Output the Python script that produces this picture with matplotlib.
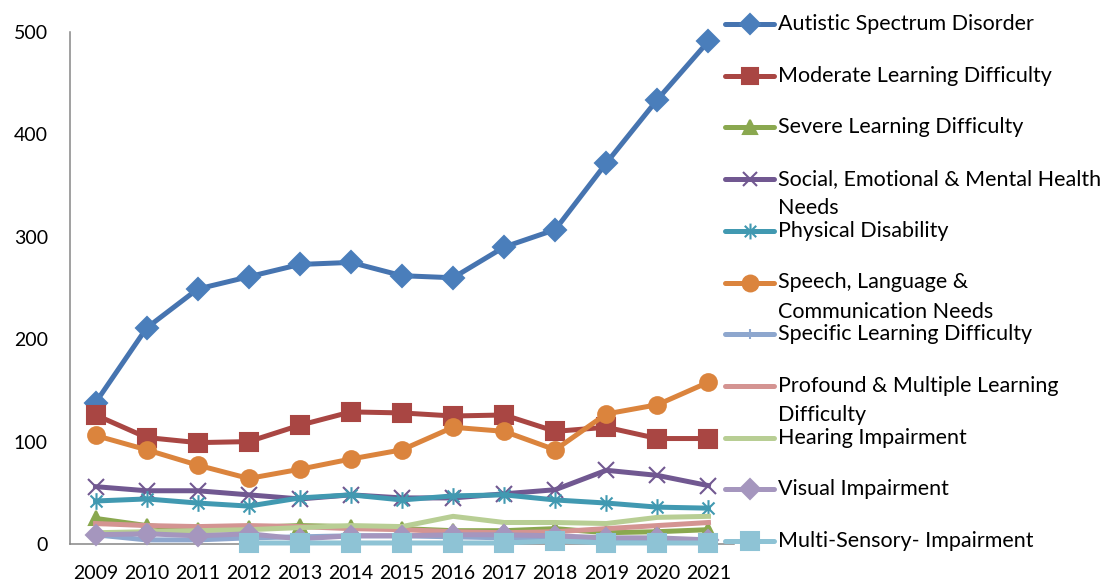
import numpy as np
import matplotlib
matplotlib.use("Agg")
import matplotlib.pyplot as plt
from matplotlib.lines import Line2D
from matplotlib.path import Path

plt.rcParams['font.family'] = ['Lato', 'DejaVu Sans']

# Pupil counts by primary need, 2009-2021
years = ['2009', '2010', '2011', '2012', '2013', '2014', '2015',
         '2016', '2017', '2018', '2019', '2020', '2021']

autistic = [138, 211, 249, 261, 273, 275, 262, 260, 290, 307, 372, 434, 491]
moderate = [126, 104, 99, 100, 116, 129, 128, 125, 126, 110, 114, 103, 103]
severe = [25, 18, 14, 16, 18, 17, 15, 13, 13, 15, 11, 12, 14]
social = [56, 52, 52, 48, 44, 48, 45, 45, 49, 53, 72, 67, 57]
physical = [42, 44, 40, 37, 45, 48, 43, 47, 48, 43, 40, 36, 35]
speech = [106, 92, 77, 64, 73, 83, 92, 114, 110, 92, 127, 136, 158]
specific = [9, 4, 4, 6, 7, 8, 8, 7, 6, 5, 4, 3, 3]
profound = [20, 18, 17, 18, 17, 15, 14, 12, 11, 12, 15, 18, 21]
hearing = [11, 12, 13, 14, 16, 18, 17, 27, 21, 21, 20, 26, 27]
visual = [9, 10, 8, 10, 5, 8, 8, 9, 9, 8, 6, 6, 4]
multi = [np.nan, np.nan, np.nan, 1, 1, 1, 1, 1, 1, 3, 1, 1, 1]

# asterisk marker: vertical bar plus a cross
star = Path([(0, -1), (0, 1), (-0.72, -0.72), (0.72, 0.72), (-0.72, 0.72), (0.72, -0.72)],
            [Path.MOVETO, Path.LINETO, Path.MOVETO, Path.LINETO, Path.MOVETO, Path.LINETO])

series = [
    ("Autistic Spectrum Disorder", autistic, '#4674B0', '#4A7EBB', 'D', 11),
    ("Moderate Learning Difficulty", moderate, '#A94643', '#A94643', 's', 12.5),
    ("Severe Learning Difficulty", severe, '#8AA84F', '#8AA84F', '^', 10),
    ("Social, Emotional & Mental Health\nNeeds", social, '#715891', '#715891', 'x', 11),
    ("Physical Disability", physical, '#4199B1', '#4199B1', star, 12),
    ("Speech, Language &\nCommunication Needs", speech, '#DB843D', '#DB843D', 'o', 12),
    ("Specific Learning Difficulty", specific, '#8EA7CE', '#8EA7CE', '|', 7),
    ("Profound & Multiple Learning\nDifficulty", profound, '#D49492', '#D49492', None, 0),
    ("Hearing Impairment", hearing, '#B8CE94', '#B8CE94', None, 0),
    ("Visual Impairment", visual, '#A596BE', '#A596BE', 'D', 10.5),
    ("Multi-Sensory- Impairment", multi, '#8EC3D5', '#8EC3D5', 's', 13),
]

fig = plt.figure(figsize=(11.1, 5.85), dpi=100)
ax = fig.add_axes([70 / 1110, 41 / 585, 664 / 1110, 512 / 585])

x = np.arange(len(years))
for i, (name, vals, lc, mc, mk, ms) in enumerate(series):
    ax.plot(x, vals, color=lc, lw=3.6, marker=mk, markersize=ms,
            markerfacecolor=mc, markeredgecolor=mc, markeredgewidth=1.5,
            solid_joinstyle='round', zorder=2 + i, clip_on=False)

ax.set_xlim(-0.5, len(years) - 0.5)
ax.set_ylim(0, 500)
ax.set_yticks(range(0, 501, 100))
ax.set_xticks(x)
ax.set_xticklabels(years)
ax.tick_params(axis='both', length=0, labelsize=14, colors='black')
ax.tick_params(axis='x', pad=15)
ax.tick_params(axis='y', pad=16)
for side in ['top', 'right']:
    ax.spines[side].set_visible(False)
for side in ['left', 'bottom']:
    ax.spines[side].set_color('#868686')
    ax.spines[side].set_linewidth(1.1)

# legend drawn in pixel space on the right
lg = fig.add_axes([0, 0, 1, 1], facecolor='none')
lg.set_xlim(0, 1110)
lg.set_ylim(585, 0)
lg.axis('off')
for i, (name, vals, lc, mc, mk, ms) in enumerate(series):
    y = 24 + 51.7 * i
    lg.add_line(Line2D([725, 774], [y, y], color=lc, lw=3.6, solid_capstyle='round'))
    if mk is not None:
        lg.add_line(Line2D([749.5], [y], marker=mk, markersize=ms * 0.95, color=lc,
                           markerfacecolor=mc, markeredgecolor=mc, markeredgewidth=1.5))
    for j, line in enumerate(name.split('\n')):
        lg.text(778, y + 29 * j, line, fontsize=15.5, va='center', ha='left', color='black')

fig.savefig("out.png", dpi=100)
